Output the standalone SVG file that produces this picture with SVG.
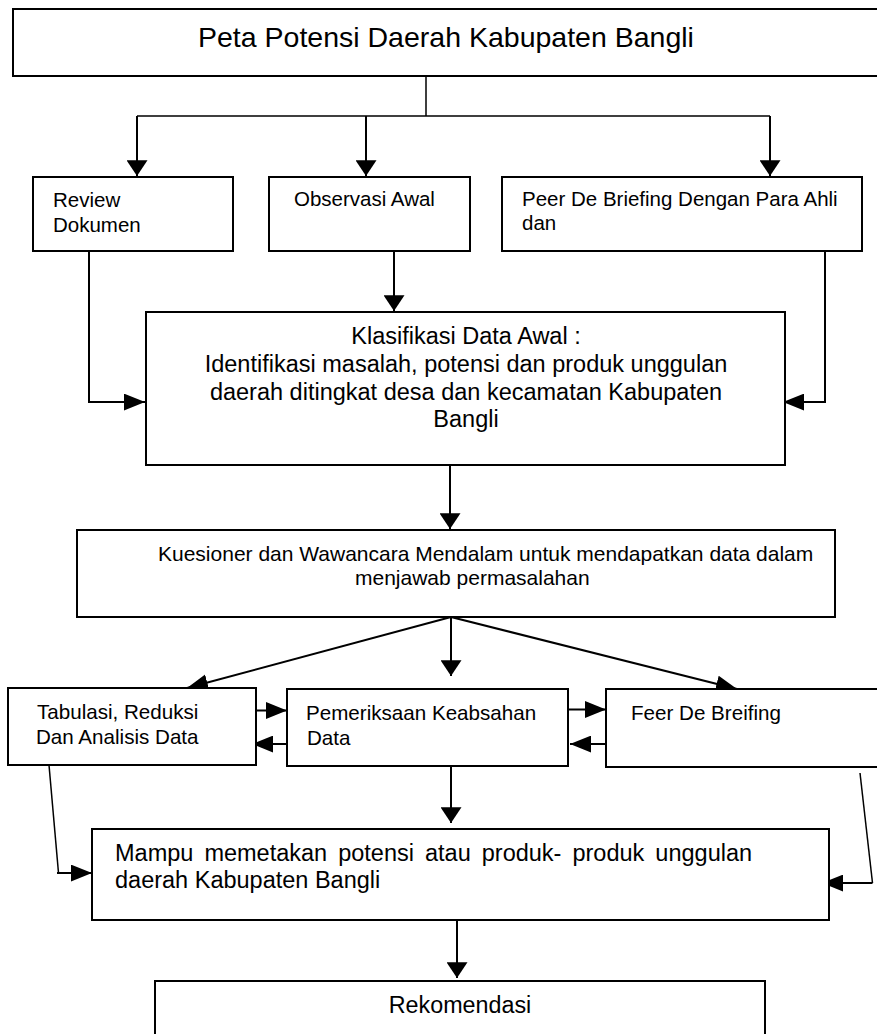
<svg xmlns="http://www.w3.org/2000/svg" width="877" height="1034" viewBox="0 0 877 1034">
<style>
.box{fill:#fff;stroke:#000;stroke-width:2}
.t{font-family:"Liberation Sans",Arial,sans-serif;fill:#000}
.c{fill:none;stroke:#000;stroke-width:2}
.thin{fill:none;stroke:#000;stroke-width:1.5}
</style>
<defs>
<marker id="aV" markerUnits="userSpaceOnUse" markerWidth="16" markerHeight="21" viewBox="0 0 15 20" refX="15" refY="10" orient="auto"><path d="M0,0 L15,10 L0,20 z" fill="#000"/></marker>
<marker id="aH" markerUnits="userSpaceOnUse" markerWidth="21" markerHeight="17" viewBox="0 0 20 16" refX="20" refY="8" orient="auto"><path d="M0,0 L20,8 L0,16 z" fill="#000"/></marker>
</defs>
<rect width="877" height="1034" fill="#fff"/>
<g id="connectors">
<path class="thin" d="M426,76 V116 M137,116 H770"/>
<path class="c" d="M137,116 V176" marker-end="url(#aV)"/>
<path class="c" d="M366,116 V176" marker-end="url(#aV)"/>
<path class="c" d="M770,116 V176" marker-end="url(#aV)"/>
<path class="c" d="M89,251 V402 H145" marker-end="url(#aH)"/>
<path class="c" d="M394,251 V311" marker-end="url(#aV)"/>
<path class="c" d="M825,251 V402 H783" marker-end="url(#aH)"/>
<path class="c" d="M450,466 V529" marker-end="url(#aV)"/>
<path class="c" d="M451,617 L187,688" marker-end="url(#aH)"/>
<path class="c" d="M451,617 V676" marker-end="url(#aV)"/>
<path class="c" d="M451,617 L737,689" marker-end="url(#aH)"/>
<path class="c" d="M250,710.5 H287" marker-end="url(#aH)"/>
<path class="c" d="M287,744 H252" marker-end="url(#aH)"/>
<path class="c" d="M568,709.5 H606" marker-end="url(#aH)"/>
<path class="c" d="M606,744 H570" marker-end="url(#aH)"/>
<path class="c" d="M451,766 V823" marker-end="url(#aV)"/>
<path class="thin" d="M49,765 L58.5,873"/>
<path class="c" d="M57,873 H92" marker-end="url(#aH)"/>
<path class="thin" d="M860,773 L872.5,883"/>
<path class="c" d="M872.5,883 H822" marker-end="url(#aH)"/>
<path class="c" d="M457,920 V978" marker-end="url(#aV)"/>
</g>
<g id="n-title">
<rect class="box" x="13" y="9" width="880" height="67"/>
<text class="t" x="198" y="46.5" font-size="28.5">Peta Potensi Daerah Kabupaten Bangli</text>
</g>
<g id="n-review">
<rect class="box" x="33" y="177" width="200" height="74"/>
<text class="t" x="53" y="207" font-size="20.5">Review</text>
<text class="t" x="53" y="232" font-size="20.5">Dokumen</text>
</g>
<g id="n-observasi">
<rect class="box" x="269" y="177" width="201" height="74"/>
<text class="t" x="294" y="206" font-size="20.5">Observasi Awal</text>
</g>
<g id="n-peer">
<rect class="box" x="502" y="177" width="360" height="74"/>
<text class="t" x="522" y="206" font-size="20.5">Peer De Briefing Dengan Para Ahli</text>
<text class="t" x="522" y="230" font-size="20.5">dan</text>
</g>
<g id="n-klasifikasi">
<rect class="box" x="146" y="312" width="639" height="153"/>
<text class="t" x="466" y="344" font-size="23.5" text-anchor="middle">Klasifikasi Data Awal :</text>
<text class="t" x="466" y="372" font-size="23.5" text-anchor="middle">Identifikasi masalah, potensi dan produk unggulan</text>
<text class="t" x="466" y="400" font-size="23.5" text-anchor="middle">daerah ditingkat desa dan kecamatan Kabupaten</text>
<text class="t" x="466" y="427" font-size="23.5" text-anchor="middle">Bangli</text>
</g>
<g id="n-kuesioner">
<rect class="box" x="77" y="530" width="758" height="87"/>
<text class="t" x="158" y="561" font-size="21">Kuesioner dan Wawancara Mendalam untuk mendapatkan data dalam</text>
<text class="t" x="355" y="585" font-size="21">menjawab permasalahan</text>
</g>
<g id="n-tabulasi">
<rect class="box" x="8" y="688" width="248" height="77"/>
<text class="t" x="37" y="719" font-size="20.6">Tabulasi, Reduksi</text>
<text class="t" x="36" y="744" font-size="20.6">Dan Analisis Data</text>
</g>
<g id="n-pemeriksaan">
<rect class="box" x="287" y="689" width="281" height="77"/>
<text class="t" x="306" y="720" font-size="20.6">Pemeriksaan Keabsahan</text>
<text class="t" x="307" y="745" font-size="20.6">Data</text>
</g>
<g id="n-feer">
<rect class="box" x="606" y="689" width="290" height="78"/>
<text class="t" x="631" y="720" font-size="20.6">Feer De Breifing</text>
</g>
<g id="n-mampu">
<rect class="box" x="92" y="829" width="737" height="91"/>
<text class="t" x="115" y="861" font-size="23.5" word-spacing="4.5">Mampu memetakan potensi atau produk- produk unggulan</text>
<text class="t" x="115" y="888" font-size="23.5">daerah Kabupaten Bangli</text>
</g>
<g id="n-rekomendasi">
<rect class="box" x="155" y="981" width="610" height="70"/>
<text class="t" x="460" y="1013" font-size="23.3" text-anchor="middle">Rekomendasi</text>
</g>
</svg>
